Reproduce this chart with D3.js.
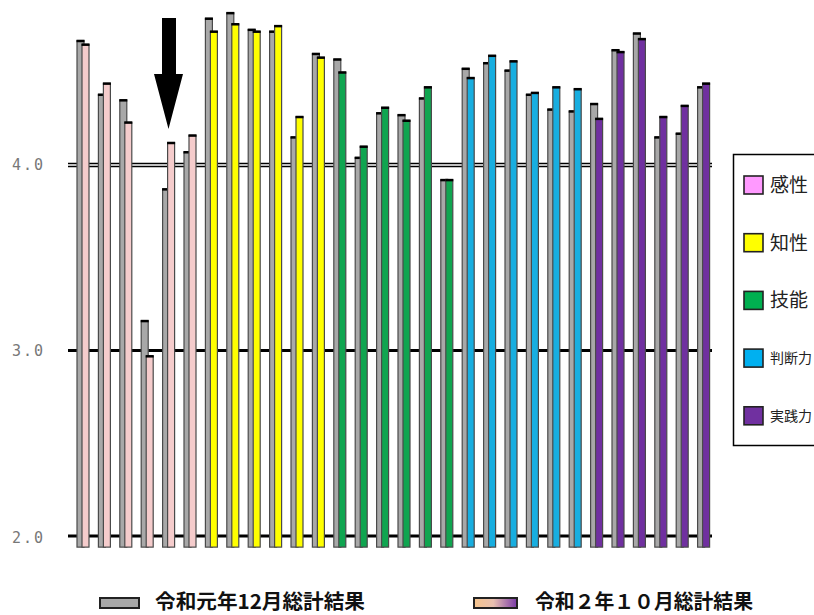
<!DOCTYPE html>
<html><head><meta charset="utf-8">
<script src="https://cdn.jsdelivr.net/npm/d3@7/dist/d3.min.js"></script>
<style>body{margin:0;background:#fff}svg{display:block}</style>
</head><body>
<script>
const groups = ["感性","知性","技能","判断力","実践力"];
const groupColors = ["#f5cccc","#ffff00","#10a550","#18aee0","#7030a0"];
const legendColors = ["#ff99ff","#ffff00","#00b050","#00b0f0","#7030a0"];
const perGroup = 6;
const prev = [4.67,4.38,4.35,3.16,3.87,4.07, 4.79,4.82,4.73,4.72,4.15,4.60, 4.57,4.04,4.28,4.27,4.36,3.92, 4.52,4.55,4.51,4.38,4.30,4.29, 4.33,4.62,4.71,4.15,4.17,4.42];
const curr = [4.65,4.44,4.23,2.97,4.12,4.16, 4.72,4.76,4.72,4.75,4.26,4.58, 4.50,4.10,4.31,4.24,4.42,3.92, 4.47,4.59,4.56,4.39,4.42,4.41, 4.25,4.61,4.68,4.26,4.32,4.44];
const yTicks = [2.0, 3.0, 4.0];
const seriesNames = ["令和元年12月総計結果","令和２年１０月総計結果"];

const W = 814, H = 615;
const svg = d3.select("body").append("svg").attr("width", W).attr("height", H);
const defs = svg.append("defs");
const grad = defs.append("linearGradient").attr("id","g2");
grad.append("stop").attr("offset","0%").attr("stop-color","#f6c48c");
grad.append("stop").attr("offset","45%").attr("stop-color","#e8c0b0");
grad.append("stop").attr("offset","100%").attr("stop-color","#7a3aa8");

const idx = d3.range(prev.length);
const x = d3.scaleBand().domain(idx).range([70, 712]).padding(0);
const y = d3.scaleLinear().domain([2, 4]).range([536, 165]);
const yBottom = y(1.94);
const bw = 7;

// gridlines
const grid = svg.append("g");
yTicks.forEach(t => {
  if (t === 4.0) {
    grid.append("line").attr("x1",68).attr("x2",712).attr("y1",y(t)-1.5).attr("y2",y(t)-1.5).attr("stroke","#000").attr("stroke-width",1.3);
    grid.append("line").attr("x1",68).attr("x2",712).attr("y1",y(t)+1.5).attr("y2",y(t)+1.5).attr("stroke","#000").attr("stroke-width",1.3);
  } else {
    grid.append("line").attr("x1",68).attr("x2",712).attr("y1",y(t)).attr("y2",y(t)).attr("stroke","#000").attr("stroke-width",3);
  }
});

// y labels
svg.append("g").selectAll("text").data(yTicks).join("text")
  .attr("x", 12).attr("y", d => y(d) + (d===2?7:5))
  .attr("font-family","DejaVu Sans Mono").attr("font-size",15).attr("fill","#777")
  .attr("letter-spacing",2)
  .text(d => d.toFixed(1));

function drawBar(g, xl, v, fill) {
  const top = y(v);
  g.append("rect").attr("x", xl).attr("y", top).attr("width", bw).attr("height", yBottom - top)
    .attr("fill", fill).attr("stroke", "#4a4a4a").attr("stroke-width", 1.2);
  g.append("rect").attr("x", xl - 0.5).attr("y", top - 1).attr("width", bw + 1).attr("height", 2.5).attr("fill", "#000");
}

const bars = svg.append("g");
idx.forEach(i => {
  const g = bars.append("g");
  const x0 = x(i);
  drawBar(g, x0 + 7, prev[i], "#a8a8a8");
  drawBar(g, x0 + 12, curr[i], groupColors[Math.floor(i / perGroup)]);
});

// arrow
svg.append("path")
  .attr("d", "M162,18 L176,18 L176,74 L183,74 L168.5,129 L154,74 L162,74 Z")
  .attr("fill", "#000");

// right legend
const lg = svg.append("g");
lg.append("rect").attr("x", 733.5).attr("y", 154.5).attr("width", 100).attr("height", 291)
  .attr("fill", "#fff").attr("stroke", "#000").attr("stroke-width", 1.5);
groups.forEach((gname, k) => {
  const cy = 185 + k * 57.7;
  lg.append("rect").attr("x", 744).attr("y", cy - 9).attr("width", 19).attr("height", 18)
    .attr("fill", legendColors[k]).attr("stroke", "#222").attr("stroke-width", 1.6);
  lg.append("text").attr("x", 770).attr("y", cy + (k < 3 ? 7 : 5))
    .attr("font-family", "Noto Sans CJK JP").attr("font-size", k < 3 ? 19 : 14).attr("fill", "#222")
    .text(gname);
});

// bottom legend
const bl = svg.append("g");
bl.append("rect").attr("x", 100).attr("y", 598).attr("width", 39).attr("height", 10)
  .attr("fill", "#a8a8a8").attr("stroke", "#222").attr("stroke-width", 2);
bl.append("text").attr("x", 155).attr("y", 600.5).attr("dominant-baseline", "central")
  .attr("font-family", "Noto Sans CJK JP").attr("font-weight", "bold")
  .attr("font-size", 20).attr("textLength", 210).attr("lengthAdjust", "spacingAndGlyphs").attr("fill", "#111")
  .text(seriesNames[0]);
bl.append("rect").attr("x", 474).attr("y", 598).attr("width", 43).attr("height", 10)
  .attr("fill", "url(#g2)").attr("stroke", "#222").attr("stroke-width", 2);
bl.append("text").attr("x", 535).attr("y", 600.5).attr("dominant-baseline", "central")
  .attr("font-family", "Noto Sans CJK JP").attr("font-weight", "bold")
  .attr("font-size", 20).attr("textLength", 218).attr("lengthAdjust", "spacingAndGlyphs").attr("fill", "#111")
  .text(seriesNames[1]);
</script>
</body></html>
